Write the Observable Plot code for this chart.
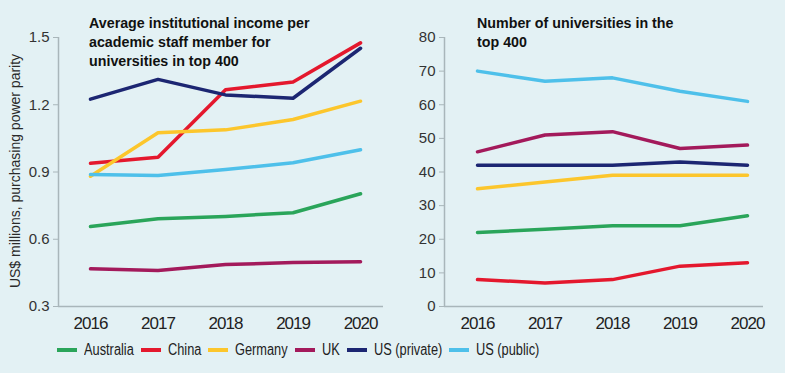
<!DOCTYPE html>
<html><head><meta charset="utf-8">
<script src="https://cdn.jsdelivr.net/npm/d3@7"></script>
<script src="https://cdn.jsdelivr.net/npm/@observablehq/plot@0.6"></script>
<style>
html,body{margin:0;padding:0;background:#e3f1f4;}
#wrap{position:relative;width:785px;height:373px;background:#e3f1f4;overflow:hidden;font-family:"Liberation Sans",Arial,sans-serif;color:#222;}
.panel{position:absolute;top:0;}
.title{position:absolute;top:13px;font-weight:bold;font-size:15.5px;line-height:19px;color:#111;white-space:nowrap;transform:scaleX(0.92);transform-origin:0 0;}
#ylabel{position:absolute;left:15px;top:171px;transform:translate(-50%,-50%) rotate(-90deg);font-size:14px;white-space:nowrap;color:#2a2a2a;}
#legend{position:absolute;left:57px;top:340px;display:flex;align-items:center;font-size:16px;line-height:20px;color:#222;}
.item{display:flex;align-items:center;margin-right:7px;}
.sw{width:20px;height:4px;margin-right:7px;flex:none;}
.lblwrap{display:inline-block;overflow:visible;white-space:nowrap;}
.lbl{display:inline-block;transform:scaleX(0.8);transform-origin:0 50%;white-space:nowrap;}
g[aria-label="x-axis tick label"] text{letter-spacing:-1px;}
</style></head><body>
<div id="wrap">
  <div id="left" class="panel" style="left:0"></div>
  <div id="right" class="panel" style="left:392px"></div>
  <div class="title" style="left:89px">Average institutional income per<br>academic staff member for<br>universities in top 400</div>
  <div class="title" style="left:477px">Number of universities in the<br>top 400</div>
  <div id="ylabel">US$ millions, purchasing power parity</div>
  <div id="legend"></div>
</div>
<script>
const years = [2016, 2017, 2018, 2019, 2020];
const seriesNames = ["Australia", "China", "Germany", "UK", "US (private)", "US (public)"];
const seriesColors = ["#2aa55a", "#e4182d", "#fcc62c", "#a31a5b", "#1c2672", "#4ec0ea"];

// Average institutional income per academic staff member (US$ millions, PPP)
const incomeAustralia = [0.657, 0.691, 0.702, 0.718, 0.803];
const incomeChina     = [0.939, 0.966, 1.267, 1.301, 1.476];
const incomeGermany   = [0.881, 1.075, 1.088, 1.134, 1.216];
const incomeUK        = [0.468, 0.461, 0.487, 0.496, 0.500];
const incomeUSPrivate = [1.225, 1.313, 1.244, 1.229, 1.452];
const incomeUSPublic  = [0.889, 0.884, 0.911, 0.941, 0.999];

// Number of universities in the top 400
const countAustralia = [22, 23, 24, 24, 27];
const countChina     = [8, 7, 8, 12, 13];
const countGermany   = [35, 37, 39, 39, 39];
const countUK        = [46, 51, 52, 47, 48];
const countUSPrivate = [42, 42, 42, 43, 42];
const countUSPublic  = [70, 67, 68, 64, 61];

const incomeTicks = [0.3, 0.6, 0.9, 1.2, 1.5];
const countTicks = [0, 10, 20, 30, 40, 50, 60, 70, 80];

const incomeSeries = [incomeAustralia, incomeChina, incomeGermany, incomeUK, incomeUSPrivate, incomeUSPublic];
const countSeries = [countAustralia, countChina, countGermany, countUK, countUSPrivate, countUSPublic];

function tidy(arrs) {
  const out = [];
  arrs.forEach((vals, i) => vals.forEach((v, j) => out.push({series: seriesNames[i], year: years[j], value: v})));
  return out;
}

const axisColor = "#a9b6ba";
const tickFont = "'Liberation Sans', Arial, sans-serif";

function panel({data, width, marginLeft, marginRight, xDomain, yDomain, ticks, fmt}) {
  return Plot.plot({
    width, height: 335,
    marginTop: 37, marginBottom: 29, marginLeft, marginRight,
    style: {background: "transparent", overflow: "visible"},
    x: {domain: xDomain},
    y: {domain: yDomain},
    color: {domain: seriesNames, range: seriesColors},
    marks: [
      Plot.ruleX([xDomain[0]], {stroke: axisColor, strokeWidth: 1.5}),
      Plot.ruleY([yDomain[0]], {stroke: axisColor, strokeWidth: 1.5}),
      Plot.axisY({ticks, tickFormat: fmt, tickSize: 5, tickPadding: 4, stroke: axisColor,
        fontSize: 15, fontFamily: tickFont, fill: "#333", label: null}),
      Plot.axisX({ticks: years, tickFormat: d => String(d), tickSize: 0, tickPadding: 10,
        fontSize: 17, fontFamily: tickFont, fill: "#222", label: null}),
      Plot.line(data, {x: "year", y: "value", z: "series", stroke: "series",
        strokeWidth: 3.5, strokeLinejoin: "round", strokeLinecap: "round"})
    ]
  });
}

document.getElementById("left").appendChild(panel({
  data: tidy(incomeSeries), width: 392, marginLeft: 58, marginRight: 9,
  xDomain: [2015.526, 2020.34], yDomain: [0.3, 1.5], ticks: incomeTicks, fmt: d => d.toFixed(1)
}));
document.getElementById("right").appendChild(panel({
  data: tidy(countSeries), width: 393, marginLeft: 52, marginRight: 22,
  xDomain: [2015.511, 2020.237], yDomain: [0, 80], ticks: countTicks, fmt: d => String(d)
}));

const legend = document.getElementById("legend");
seriesNames.forEach((name, i) => {
  const item = document.createElement("div");
  item.className = "item";
  const sw = document.createElement("div");
  sw.className = "sw";
  sw.style.background = seriesColors[i];
  const wrap = document.createElement("span");
  wrap.className = "lblwrap";
  const label = document.createElement("span");
  label.className = "lbl";
  label.textContent = name;
  wrap.appendChild(label);
  item.appendChild(sw);
  item.appendChild(wrap);
  legend.appendChild(item);
  wrap.style.width = (label.offsetWidth * 0.8) + "px";
});
</script>
</body></html>
